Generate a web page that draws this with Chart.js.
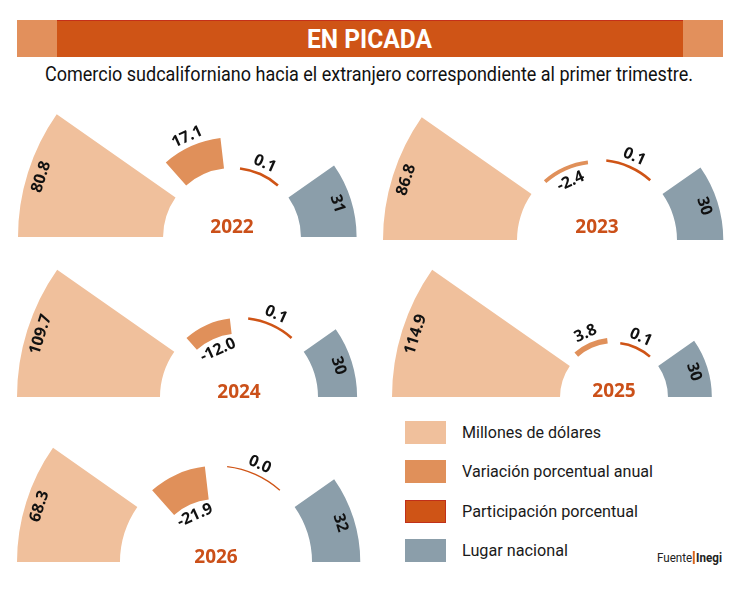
<!DOCTYPE html>
<html lang="es">
<head>
    <meta charset="UTF-8">
    <title>En picada</title>
    <script src="https://cdn.jsdelivr.net/npm/chart.js"></script>
    <style>
        body { margin: 0; background: #fff; font-family: Roboto, sans-serif; }
        #page { position: relative; width: 750px; height: 596px; overflow: hidden; background: #fff; }
        .cap { position: absolute; top: 20px; height: 37px; background: #e2905c; }
        #band { position: absolute; left: 57px; top: 20px; width: 626px; height: 36px;
                background: #cf5416; border-top: 1px solid #c4301a; text-align: center; }
        .fit { display: inline-block; white-space: nowrap; transform-origin: left center; }
        #title { position: absolute; left: 250px; top: 2px; color: #fff; font-weight: 700; font-size: 26px; line-height: 32px; }
        #subtitle { position: absolute; left: 45px; top: 61px; font-size: 20px; line-height: 26px; color: #111; }
        .frame { position: absolute; overflow: hidden; }
        .legend { position: absolute; left: 405px; }
        .legend .sw { position: absolute; left: 0; top: 0; width: 41px; height: 23px; }
        .legend .txt { position: absolute; left: 57px; top: 0; font-size: 17px; line-height: 23px; color: #1a1a1a; }
        #source { position: absolute; left: 657px; top: 550px; font-size: 12px; line-height: 16px; color: #222; }
        #source b { font-weight: 700; }
        #source i { display: inline-block; width: 2px; height: 13px; background: #d8641e; margin: 0 1px; vertical-align: -2px; }
    </style>
</head>
<body>
<div id="page">
    <div class="cap" style="left:17px;width:40px"></div>
    <div id="band"><span id="title" class="fit">EN PICADA</span></div>
    <div class="cap" style="left:683px;width:40px"></div>
    <span id="subtitle" class="fit">Comercio sudcaliforniano hacia el extranjero correspondiente al primer trimestre.</span>
    <div id="legend"></div>
    <div id="source" class="fit">Fuente<i></i><b>Inegi</b></div>
</div>

<script>
    // data
    const years = ['2022', '2023', '2024', '2025', '2026'];
    const categories = ['Millones de dólares', 'Variación porcentual anual', 'Participación porcentual', 'Lugar nacional'];
    const millones = [80.8, 86.8, 109.7, 114.9, 68.3];
    const variacion = [17.1, -2.4, -12.0, 3.8, -21.9];
    const participacion = [0.1, 0.1, 0.1, 0.1, 0.0];
    const lugar = [31, 30, 30, 30, 32];
    const decimals = [1, 1, 1, 0];
    // where each radial axis starts (value at the centre)
    const axisMin = [-38.4, -51.8, -60.6, -36.9, -63.7];

    const colors = ['#f0c09c', '#e0905a', '#cf5416', '#8b9eaa'];

    // placement of each half-wheel on the page
    const frames = [
        { cx: 232, base: 237, r: 214, lift: 4 },
        { cx: 597, base: 240, r: 214, lift: 7 },
        { cx: 239, base: 397, r: 222, lift: -1 },
        { cx: 614, base: 397, r: 222, lift: 0 },
        { cx: 216, base: 562, r: 199, lift: -1 }
    ];

    const page = document.getElementById('page');

    // turn the polar-area wedges into floating radial bars, leave gaps between them
    const radialBars = {
        id: 'radialBars',
        afterDatasetsUpdate(chart) {
            const scale = chart.scales.r;
            const meta = chart.getDatasetMeta(0);
            const data = chart.data.datasets[0].data;
            const zero = scale.getDistanceFromCenterForValue(0);
            const n = meta.data.length;
            const base = meta.data[0].startAngle;
            const slot = meta.data[0].endAngle - meta.data[0].startAngle;
            const sweep = slot * 0.778;
            const step = (slot * n - sweep) / (n - 1);
            meta.data.forEach((arc, i) => {
                const r = scale.getDistanceFromCenterForValue(data[i]);
                let inner = Math.min(zero, r), outer = Math.max(zero, r);
                const minT = data[i] === 0 ? 1.4 : 2.6;
                if (outer - inner < minT) {
                    const mid = (inner + outer) / 2;
                    inner = mid - minT / 2;
                    outer = mid + minT / 2;
                }
                arc.innerRadius = inner;
                arc.outerRadius = outer;
                arc.startAngle = base + i * step;
                arc.endAngle = arc.startAngle + sweep;
            });
        },
        afterDatasetsDraw(chart, args, opts) {
            const ctx = chart.ctx;
            const scale = chart.scales.r;
            const meta = chart.getDatasetMeta(0);
            const data = chart.data.datasets[0].data;
            ctx.save();
            ctx.textAlign = 'center';
            ctx.textBaseline = 'middle';
            ctx.fillStyle = '#111';
            ctx.font = 'bold 16px "Open Sans"';
            meta.data.forEach((arc, i) => {
                const mid = (arc.startAngle + arc.endAngle) / 2;
                let rad;
                if (i === 0 || i === 3) rad = arc.outerRadius - 14;
                else if (data[i] >= 0) rad = arc.outerRadius + 10;
                else rad = arc.innerRadius - 12;
                ctx.save();
                ctx.translate(arc.x + Math.cos(mid) * rad, arc.y + Math.sin(mid) * rad);
                ctx.rotate(mid + Math.PI / 2);
                ctx.fillText(data[i].toFixed(decimals[i]), 0, 0);
                ctx.restore();
            });
            ctx.fillStyle = '#cb5019';
            ctx.font = 'bold 19px "Open Sans"';
            ctx.textBaseline = 'alphabetic';
            ctx.fillText(opts.text, scale.xCenter, scale.yCenter - opts.lift);
            ctx.restore();
        }
    };

    years.forEach((year, i) => {
        const f = frames[i];
        const box = document.createElement('div');
        box.className = 'frame';
        box.style.left = (f.cx - f.r) + 'px';
        box.style.top = (f.base - f.r) + 'px';
        box.style.width = (2 * f.r) + 'px';
        box.style.height = (f.r + 8) + 'px';
        const canvas = document.createElement('canvas');
        canvas.width = 2 * f.r;
        canvas.height = 2 * f.r;
        box.appendChild(canvas);
        page.appendChild(box);

        new Chart(canvas, {
            type: 'polarArea',
            data: {
                labels: categories,
                datasets: [{
                    data: [millones[i], variacion[i], participacion[i], lugar[i]],
                    backgroundColor: colors,
                    borderWidth: 0,
                    angle: 45
                }]
            },
            options: {
                responsive: false,
                animation: false,
                events: [],
                layout: { padding: 0 },
                plugins: {
                    legend: { display: false },
                    tooltip: { enabled: false },
                    radialBars: { text: year, lift: f.lift }
                },
                scales: {
                    r: {
                        min: axisMin[i],
                        max: millones[i],
                        startAngle: -90,
                        ticks: { display: false },
                        grid: { display: false },
                        angleLines: { display: false },
                        pointLabels: { display: false }
                    }
                }
            },
            plugins: [radialBars]
        });
    });

    // legend
    const legend = document.getElementById('legend');
    const legendRows = [433, 472, 512, 551];
    const legendWidths = [139, 191, 176, 106];
    categories.forEach((name, i) => {
        const row = document.createElement('div');
        row.className = 'legend';
        row.style.top = (legendRows[i] - 12) + 'px';
        const sw = document.createElement('div');
        sw.className = 'sw';
        sw.style.background = colors[i];
        if (i === 2) sw.style.boxShadow = 'inset 0 0 0 1px #c0301a';
        const txt = document.createElement('span');
        txt.className = 'txt fit';
        txt.textContent = name;
        txt.dataset.w = legendWidths[i];
        row.appendChild(sw);
        row.appendChild(txt);
        legend.appendChild(row);
    });

    // squeeze text to the narrow face used in the original
    function fit(el, w) {
        el.style.transform = 'none';
        const s = w / el.getBoundingClientRect().width;
        el.style.transform = 'scaleX(' + s + ')';
    }
    function fitAll() {
        fit(document.getElementById('title'), 125);
        fit(document.getElementById('subtitle'), 648);
        fit(document.getElementById('source'), 65);
        document.querySelectorAll('.legend .txt').forEach(el => fit(el, +el.dataset.w));
    }
    fitAll();
    if (document.fonts) document.fonts.ready.then(fitAll);
</script>
</body>
</html>
